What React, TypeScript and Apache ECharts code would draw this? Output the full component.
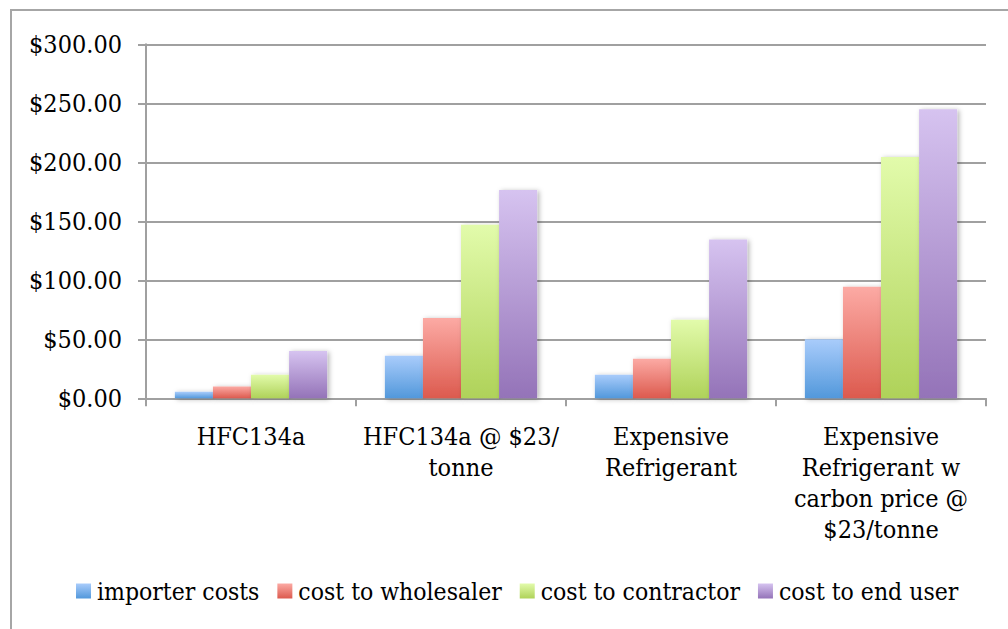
import React, { useEffect, useRef } from "react";
import * as echarts from "echarts";

const categories = [
  "HFC134a",
  "HFC134a @ $23/tonne",
  "Expensive Refrigerant",
  "Expensive Refrigerant w carbon price @ $23/tonne",
];
const categoryLabels = [
  "HFC134a",
  "HFC134a @ $23/\ntonne",
  "Expensive\nRefrigerant",
  "Expensive\nRefrigerant w\ncarbon price @\n$23/tonne",
];
const seriesNames = [
  "importer costs",
  "cost to wholesaler",
  "cost to contractor",
  "cost to end user",
];
const importerCosts = [5.5, 36, 20, 50];
const costToWholesaler = [10, 68, 33.5, 94.5];
const costToContractor = [20, 147, 66.5, 204.5];
const costToEndUser = [40, 176.5, 134.5, 245];
const yTicks = { min: 0, max: 300, interval: 50 };

const gradients: [string, string][] = [
  ["#a9ccfb", "#5298db"],
  ["#fcaaa4", "#dc5a4e"],
  ["#e2fbab", "#afd259"],
  ["#d6c3f0", "#9473b8"],
];

const FONT = "DejaVu Serif Condensed";
const FS = 25;

export default function App() {
  const ref = useRef<HTMLDivElement>(null);
  useEffect(() => {
    document.body.style.margin = "0";
    const chart = echarts.init(ref.current!, undefined, { renderer: "svg" });
    const values = [importerCosts, costToWholesaler, costToContractor, costToEndUser];
    chart.setOption({
      animation: false,
      backgroundColor: "#ffffff",
      textStyle: { fontFamily: FONT },
      graphic: [
        {
          type: "rect",
          shape: { x: 11, y: 10, width: 1100, height: 700 },
          style: { fill: "none", stroke: "#a6a6a6", lineWidth: 2 },
          silent: true,
        },
      ],
      grid: { left: 146, right: 22, top: 44.3, bottom: 230.7, containLabel: false },
      legend: {
        left: 76,
        top: 577,
        padding: 0,
        itemWidth: 15,
        itemHeight: 15,
        itemGap: 18,
        icon: "rect",
        textStyle: { fontFamily: FONT, fontSize: 24.5, color: "#000", lineHeight: 28, padding: [0, 0, 0, 1] },
        data: seriesNames,
      },
      xAxis: {
        type: "category",
        data: categories,
        axisLine: { lineStyle: { color: "#a0a0a0", width: 2 } },
        axisTick: { show: true, length: 8, inside: false, lineStyle: { color: "#a0a0a0", width: 2 } },
        axisLabel: {
          interval: 0,
          margin: 23,
          fontFamily: FONT,
          fontSize: FS,
          lineHeight: 31,
          color: "#000",
          formatter: (_v: string, i: number) => categoryLabels[i],
        },
      },
      yAxis: {
        type: "value",
        min: yTicks.min,
        max: yTicks.max,
        interval: yTicks.interval,
        axisLine: { show: true, lineStyle: { color: "#a0a0a0", width: 2 } },
        axisTick: { show: true, length: 8, lineStyle: { color: "#a0a0a0", width: 2 } },
        splitLine: { show: true, lineStyle: { color: "#a0a0a0", width: 2 } },
        axisLabel: {
          margin: 24,
          fontFamily: FONT,
          fontSize: FS,
          color: "#000",
          formatter: (v: number) => "$" + v.toFixed(2),
        },
      },
      series: seriesNames.map((name, si) => ({
        name,
        type: "bar",
        data: values[si],
        barGap: "0%",
        barCategoryGap: "27.5%",
        itemStyle: {
          color: new echarts.graphic.LinearGradient(0, 0, 0, 1, [
            { offset: 0, color: gradients[si][0] },
            { offset: 1, color: gradients[si][1] },
          ]),
          shadowColor: "rgba(0,0,0,0.3)",
          shadowBlur: 5,
          shadowOffsetX: 2,
          shadowOffsetY: 1,
        },
      })),
    });
    return () => chart.dispose();
  }, []);
  return <div ref={ref} style={{ width: 1008, height: 629 }} />;
}
